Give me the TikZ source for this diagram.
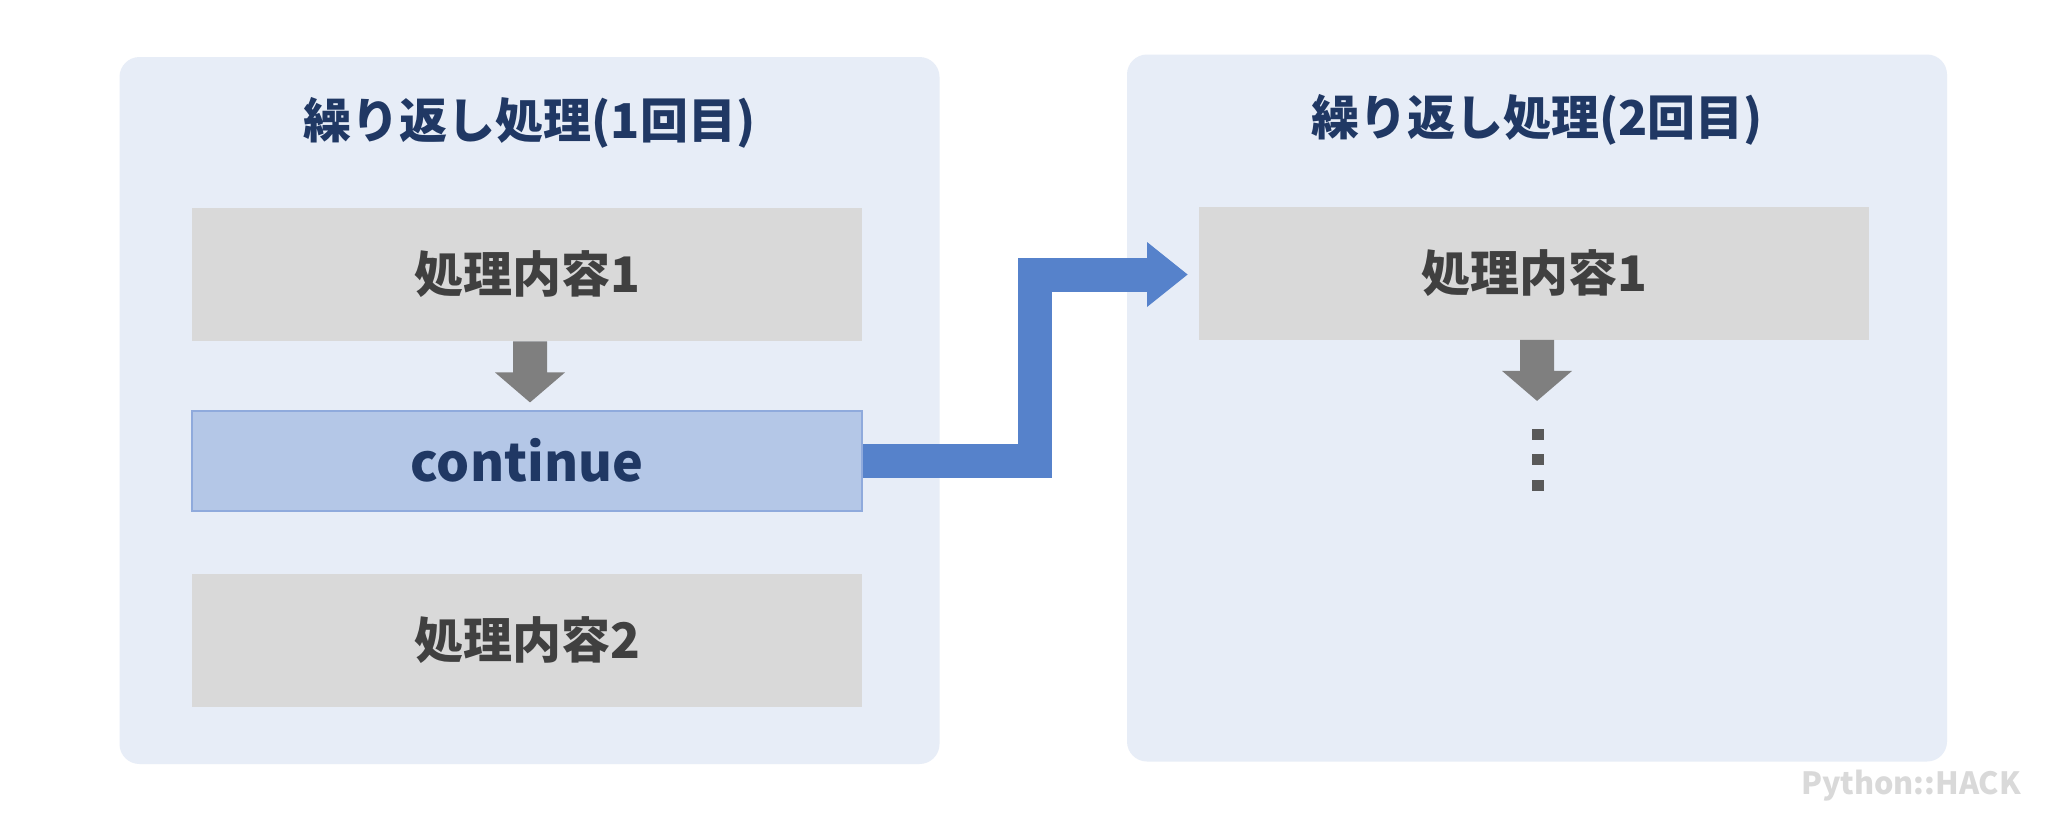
\documentclass[tikz,border=0pt]{standalone}
\usepackage{fontspec}
\setmainfont{Noto Sans CJK JP}
\usetikzlibrary{calc}
\definecolor{panelbg}{HTML}{E7EDF7}
\definecolor{boxgray}{HTML}{D9D9D9}
\definecolor{contfill}{HTML}{B4C7E7}
\definecolor{contline}{HTML}{8FAADC}
\definecolor{navy}{HTML}{203864}
\definecolor{darktext}{HTML}{404040}
\definecolor{arrowblue}{HTML}{5682CB}
\definecolor{arrowgray}{HTML}{7F7F7F}
\definecolor{dotgray}{HTML}{595959}
\definecolor{wmgray}{HTML}{D9D9D9}
\tikzset{
  panel/.style={fill=panelbg, rounded corners=10pt, inner sep=0pt, minimum width=410pt, minimum height=353.5pt},
  titletext/.style={text=navy, font=\bfseries\fontsize{24pt}{27pt}\selectfont},
  graybox/.style={fill=boxgray, inner sep=0pt, minimum width=335pt, minimum height=66.5pt, text=darktext, font=\bfseries\fontsize{24.5pt}{28pt}\selectfont},
  contbox/.style={fill=contfill, draw=contline, line width=1pt, inner sep=0pt, minimum width=335pt, minimum height=50pt, text=navy, font=\bfseries\fontsize{26pt}{30pt}\selectfont},
  grayarrow/.style={fill=arrowgray},
  bluearrow/.style={draw=arrowblue, line width=17pt, line join=miter},
  dotsq/.style={fill=dotgray, inner sep=0pt, minimum width=6pt, minimum height=5.5pt},
  watermark/.style={text=wmgray, font=\bfseries\fontsize{15.3pt}{18pt}\selectfont}
}
\begin{document}
\begin{tikzpicture}[x=0.5pt,y=-0.5pt]
\useasboundingbox (0,0) rectangle (2048,821);
\fill[white] (0,0) rectangle (2048,821);
% panels
\node[panel] (p1) at (529.5,410.5) {};
\node[panel] (p2) at (1537,408) {};
\node[titletext] (t1) at (529.5,123) {繰り返し処理(1回目)};
\node[titletext] (t2) at (1537,120) {繰り返し処理(2回目)};
% left boxes
\node[graybox] (a1) at (527,274.5) {処理内容1};
\node[contbox] (cont) at (527,460.5) {continue};
\node[graybox] (a2) at (527,640) {処理内容2};
% right boxes
\node[graybox] (b1) at (1534,273) {処理内容1};
% gray arrows
\coordinate (as) at ($(a1.south)+(3,0)$);
\fill[grayarrow] ($(as)+(-17,0)$) -- ++(0,31) -- ++(-18,0) -- ($(as)+(0,61)$) -- ($(as)+(35,31)$) -- ++(-18,0) -- ++(0,-31) -- cycle;
\coordinate (bs) at ($(b1.south)+(3,0)$);
\fill[grayarrow] ($(bs)+(-17,0)$) -- ++(0,31) -- ++(-18,0) -- ($(bs)+(0,61)$) -- ($(bs)+(35,31)$) -- ++(-18,0) -- ++(0,-31) -- cycle;
% dots
\node[dotsq] (d1) at (1538,434.5) {};
\node[dotsq] (d2) at (1538,459.5) {};
\node[dotsq] (d3) at (1538,485) {};
% blue arrow
\coordinate (bend) at (1035,274.5);
\coordinate (hb) at (1147,274.5);
\coordinate (tip) at ($(b1.west)+(-11,1.5)$);
\draw[bluearrow] (cont.east) -| (bend) -- (hb);
\fill[arrowblue] ($(hb)+(0,-32.5)$) -- (tip) -- ($(hb)+(0,32.5)$) -- cycle;
% watermark
\node[watermark] (wm) at (1911,786) {Python::HACK};
\end{tikzpicture}
\end{document}
